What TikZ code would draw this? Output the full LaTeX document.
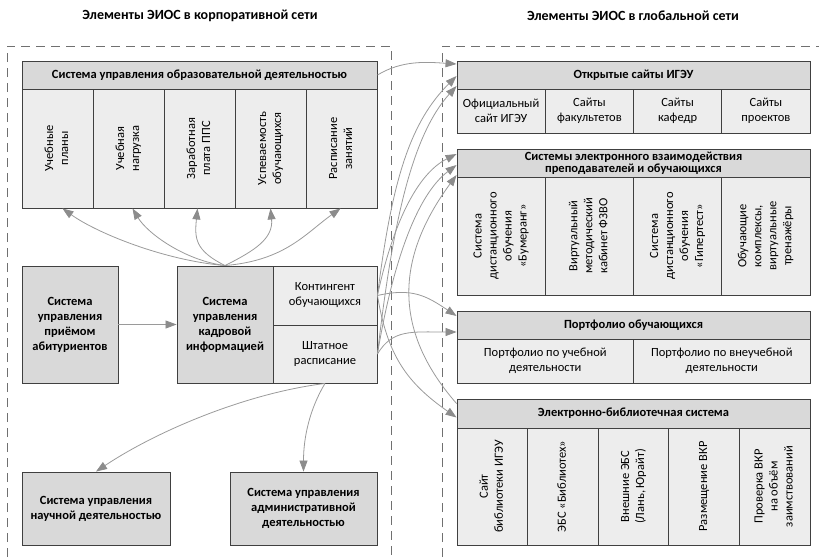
\documentclass[tikz,border=0pt]{standalone}
\usepackage{fontspec}
\setmainfont{Carlito}
\usepackage{graphicx}
\usetikzlibrary{arrows.meta}
\definecolor{Frame}{HTML}{404040}
\definecolor{Head}{HTML}{D9D9D9}
\definecolor{Cell}{HTML}{EDEDED}
\definecolor{Link}{HTML}{9A9A9A}
\definecolor{LinkTip}{HTML}{8C8C8C}
\definecolor{Zone}{HTML}{707070}
\newcommand{\vlabel}[1]{\rotatebox{90}{\begin{tabular}{@{}c@{}}#1\end{tabular}}}

\begin{document}
\begin{tikzpicture}[x=1pt,y=-1pt,
  head/.style={draw=Frame,line width=0.9pt,fill=Head,inner sep=0pt,align=center,
    font=\fontsize{12.5}{15}\selectfont\bfseries},
  cell/.style={draw=Frame,line width=0.9pt,fill=Cell,inner sep=0pt,align=center,
    font=\fontsize{12.5}{15}\selectfont},
  zone/.style={draw=Zone,line width=1pt,dash pattern=on 9pt off 6pt},
  link/.style={draw=Link,line width=0.8pt,-{Triangle[length=11pt,width=8pt,color=LinkTip]}}]
  \useasboundingbox (0,0) rectangle (819,557);

  \node[font=\fontsize{14}{17}\selectfont\bfseries] (titleL) at (200,16) {Элементы ЭИОС в корпоративной сети};
  \node[font=\fontsize{14}{17}\selectfont\bfseries] (titleR) at (633,16) {Элементы ЭИОС в глобальной сети};
  \draw[zone] (7,557) -- (7,46) -- (391,46) -- (391,557);
  \draw[zone] (442,557) -- (442,46) -- (819,46);

  \node[head,minimum width=355pt,minimum height=28pt] (obr) at (199.5,75) {Система управления образовательной деятельностью};
  \foreach \i/\x/\lbl in {1/57.5/Учебные\\планы, 2/128.5/Учебная\\нагрузка, 3/199.5/Заработная\\плата ППС,
    4/270.5/Успеваемость\\обучающихся, 5/341.5/Расписание\\занятий}
    \node[cell,minimum width=71pt,minimum height=119pt] (obr\i) at (\x,148.5) {\vlabel{\lbl}};

  \node[head,minimum width=96pt,minimum height=117pt] (priem) at (70,324.5) {Система\\управления\\приёмом\\абитуриентов};
  \node[head,minimum width=96pt,minimum height=117pt] (kadr) at (225,324.5) {Система\\управления\\кадровой\\информацией};
  \node[cell,minimum width=104pt,minimum height=59pt] (kont) at (325,295.5) {Контингент\\обучающихся};
  \node[cell,minimum width=104pt,minimum height=58pt] (shtat) at (325,354) {Штатное\\расписание};
  \node[head,minimum width=148pt,minimum height=73pt] (nauch) at (96,508.5) {Система управления\\научной деятельностью};
  \node[head,minimum width=147pt,minimum height=73pt] (adm) at (303.5,508.5) {Система управления\\административной\\деятельностью};

  \node[head,minimum width=353pt,minimum height=28pt] (otk) at (633.5,75) {Открытые сайты ИГЭУ};
  \foreach \i/\x/\lbl in {1/501.1/Официальный\\сайт ИГЭУ, 2/589.4/Сайты\\факультетов, 3/677.6/Сайты\\кафедр, 4/765.9/Сайты\\проектов}
    \node[cell,minimum width=88.25pt,minimum height=44pt] (otk\i) at (\x,111) {\lbl};

  \node[head,minimum width=353pt,minimum height=28pt,font=\fontsize{12.5}{12.5}\selectfont\bfseries] (sist) at (633.5,163)
    {Системы электронного взаимодействия\\преподавателей и обучающихся};
  \foreach \i/\x/\lbl in {1/501.1/{Система\\дистанционного\\обучения\\«Бумеранг»}, 2/589.4/{Виртуальный\\методический\\кабинет ФЗВО},
    3/677.6/{Система\\дистанционного\\обучения\\«Гипертест»}, 4/765.9/{Обучающие\\комплексы,\\виртуальные\\тренажёры}}
    \node[cell,minimum width=88.25pt,minimum height=118pt] (sist\i) at (\x,236) {\vlabel{\lbl}};

  \node[head,minimum width=353pt,minimum height=28pt] (port) at (633.5,325) {Портфолио обучающихся};
  \foreach \i/\x/\lbl in {1/545.25/Портфолио по учебной\\деятельности, 2/721.75/Портфолио по внеучебной\\деятельности}
    \node[cell,minimum width=176.5pt,minimum height=44pt] (port\i) at (\x,361) {\lbl};

  \node[head,minimum width=353pt,minimum height=29pt] (ebs) at (633.5,413.5) {Электронно-библиотечная система};
  \foreach \i/\x/\lbl in {1/492.3/{Сайт\\библиотеки ИГЭУ}, 2/562.9/{ЭБС «Библиотех»}, 3/633.5/{Внешние ЭБС\\(Лань, Юрайт)},
    4/704.1/{Размещение ВКР}, 5/774.7/{Проверка ВКР\\на объём\\заимствований}}
    \node[cell,minimum width=70.6pt,minimum height=117pt] (ebs\i) at (\x,486.5) {\vlabel{\lbl}};

  \foreach \i/\sh/\ox/\oy/\ix/\iy in {1/5/-60/-5/35/25, 2/4/-40/-5/15/25, 3/-2/-30/-15/-3/30,
    4/0/30/-15/3/30, 5/-1/60/-5/-35/25}
    \draw[link] (kadr.north) .. controls +(\ox,\oy) and +(\ix,\iy) .. ([xshift=\sh pt]obr\i.south);
  \draw[link] (priem) -- (kadr);
  \draw[link] (shtat.south) .. controls +(-80,10) and +(60,-40) .. (nauch.north);
  \draw[link] (shtat.south) .. controls +(-15,25) and +(0,-35) .. (adm.north);

  \draw[link] (obr.east) .. controls +(25,-15) and +(-30,-2) .. ([yshift=11pt]otk.west);
  \draw[link] (kont.east) .. controls +(15,-120) and +(-45,45) .. ([yshift=-1pt]otk.west);
  \draw[link] (shtat.east) .. controls +(15,-130) and +(-45,50) .. ([yshift=-11pt]otk.west);
  \draw[link] (kont.east) .. controls +(15,-70) and +(-40,20) .. ([yshift=9pt]sist.west);
  \draw[link] (shtat.east) .. controls +(15,-90) and +(-40,30) .. ([yshift=-2pt]sist.west);
  \draw[link] ([yshift=10pt]ebs.west) .. controls +(-70,-80) and +(-55,75) .. ([yshift=-12pt]sist.west);
  \draw[link] (kont.east) .. controls +(35,-8) and +(-30,-20) .. ([yshift=9pt]port.west);
  \draw[link] (shtat.east) .. controls +(15,-25) and +(-45,0) .. ([yshift=-7pt]port.west);
  \draw[link] (kont.east) .. controls +(10,60) and +(-50,-35) .. ([yshift=-4pt]ebs.west);
\end{tikzpicture}
\end{document}
